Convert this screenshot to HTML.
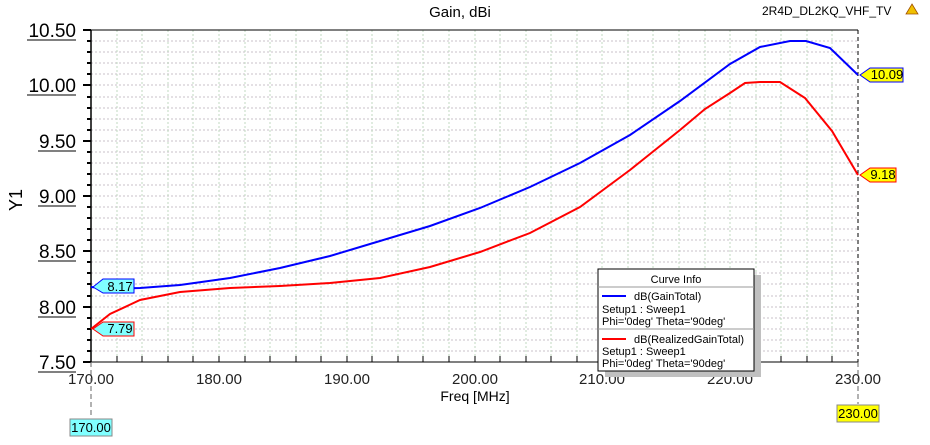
<!DOCTYPE html>
<html><head><style>
body{margin:0;background:#fff;}
svg text{font-family:"Liberation Sans",sans-serif;}
</style></head><body>
<svg width="930" height="440" xmlns="http://www.w3.org/2000/svg">
<rect width="930" height="440" fill="#fff"/>
<text x="460" y="17" font-size="15" text-anchor="middle">Gain, dBi</text>
<text x="762" y="15" font-size="12">2R4D_DL2KQ_VHF_TV</text>
<polygon points="912,4 918,14 906,14" fill="#f0c000" stroke="#a05000" stroke-width="0.8"/>
<g id="grid" stroke-width="1" stroke-dasharray="2,2">
<g stroke="#c8c0c8">
<line x1="91" y1="41" x2="858" y2="41"/><line x1="91" y1="52" x2="858" y2="52"/><line x1="91" y1="63" x2="858" y2="63"/><line x1="91" y1="74" x2="858" y2="74"/><line x1="91" y1="85" x2="858" y2="85"/><line x1="91" y1="97" x2="858" y2="97"/><line x1="91" y1="108" x2="858" y2="108"/><line x1="91" y1="119" x2="858" y2="119"/><line x1="91" y1="130" x2="858" y2="130"/><line x1="91" y1="141" x2="858" y2="141"/><line x1="91" y1="152" x2="858" y2="152"/><line x1="91" y1="163" x2="858" y2="163"/><line x1="91" y1="174" x2="858" y2="174"/><line x1="91" y1="185" x2="858" y2="185"/><line x1="91" y1="196" x2="858" y2="196"/><line x1="91" y1="207" x2="858" y2="207"/><line x1="91" y1="218" x2="858" y2="218"/><line x1="91" y1="229" x2="858" y2="229"/><line x1="91" y1="240" x2="858" y2="240"/><line x1="91" y1="251" x2="858" y2="251"/><line x1="91" y1="262" x2="858" y2="262"/><line x1="91" y1="273" x2="858" y2="273"/><line x1="91" y1="284" x2="858" y2="284"/><line x1="91" y1="296" x2="858" y2="296"/><line x1="91" y1="307" x2="858" y2="307"/><line x1="91" y1="318" x2="858" y2="318"/><line x1="91" y1="329" x2="858" y2="329"/><line x1="91" y1="340" x2="858" y2="340"/><line x1="91" y1="351" x2="858" y2="351"/>
</g>
<g stroke="#c0d8c0">
<line x1="117" y1="30" x2="117" y2="362"/><line x1="142" y1="30" x2="142" y2="362"/><line x1="168" y1="30" x2="168" y2="362"/><line x1="193" y1="30" x2="193" y2="362"/><line x1="219" y1="30" x2="219" y2="362"/><line x1="245" y1="30" x2="245" y2="362"/><line x1="270" y1="30" x2="270" y2="362"/><line x1="296" y1="30" x2="296" y2="362"/><line x1="321" y1="30" x2="321" y2="362"/><line x1="347" y1="30" x2="347" y2="362"/><line x1="372" y1="30" x2="372" y2="362"/><line x1="398" y1="30" x2="398" y2="362"/><line x1="423" y1="30" x2="423" y2="362"/><line x1="449" y1="30" x2="449" y2="362"/><line x1="475" y1="30" x2="475" y2="362"/><line x1="500" y1="30" x2="500" y2="362"/><line x1="526" y1="30" x2="526" y2="362"/><line x1="551" y1="30" x2="551" y2="362"/><line x1="577" y1="30" x2="577" y2="362"/><line x1="602" y1="30" x2="602" y2="362"/><line x1="628" y1="30" x2="628" y2="362"/><line x1="653" y1="30" x2="653" y2="362"/><line x1="679" y1="30" x2="679" y2="362"/><line x1="705" y1="30" x2="705" y2="362"/><line x1="730" y1="30" x2="730" y2="362"/><line x1="756" y1="30" x2="756" y2="362"/><line x1="781" y1="30" x2="781" y2="362"/><line x1="807" y1="30" x2="807" y2="362"/><line x1="832" y1="30" x2="832" y2="362"/>
</g>
</g>
<line x1="91" y1="30" x2="858" y2="30" stroke="#000"/>
<line x1="91" y1="30" x2="91" y2="362" stroke="#000" stroke-width="1.5"/>
<line x1="91" y1="362" x2="858" y2="362" stroke="#000"/>
<line x1="858" y1="30" x2="858" y2="362" stroke="#000" stroke-dasharray="4,3"/>
<g stroke="#000" stroke-width="2">
<line x1="83" y1="30" x2="91" y2="30"/><line x1="83" y1="85" x2="91" y2="85"/><line x1="83" y1="141" x2="91" y2="141"/><line x1="83" y1="196" x2="91" y2="196"/><line x1="83" y1="251" x2="91" y2="251"/><line x1="83" y1="307" x2="91" y2="307"/><line x1="83" y1="362" x2="91" y2="362"/>
<line x1="87" y1="41" x2="91" y2="41"/><line x1="87" y1="52" x2="91" y2="52"/><line x1="87" y1="63" x2="91" y2="63"/><line x1="87" y1="74" x2="91" y2="74"/><line x1="87" y1="97" x2="91" y2="97"/><line x1="87" y1="108" x2="91" y2="108"/><line x1="87" y1="119" x2="91" y2="119"/><line x1="87" y1="130" x2="91" y2="130"/><line x1="87" y1="152" x2="91" y2="152"/><line x1="87" y1="163" x2="91" y2="163"/><line x1="87" y1="174" x2="91" y2="174"/><line x1="87" y1="185" x2="91" y2="185"/><line x1="87" y1="207" x2="91" y2="207"/><line x1="87" y1="218" x2="91" y2="218"/><line x1="87" y1="229" x2="91" y2="229"/><line x1="87" y1="240" x2="91" y2="240"/><line x1="87" y1="262" x2="91" y2="262"/><line x1="87" y1="273" x2="91" y2="273"/><line x1="87" y1="284" x2="91" y2="284"/><line x1="87" y1="296" x2="91" y2="296"/><line x1="87" y1="318" x2="91" y2="318"/><line x1="87" y1="329" x2="91" y2="329"/><line x1="87" y1="340" x2="91" y2="340"/><line x1="87" y1="351" x2="91" y2="351"/>
</g>
<g font-size="19" text-anchor="end">
<text x="76" y="37">10.50</text><line x1="27" y1="40" x2="76" y2="40" stroke="#000"/>
<text x="76" y="92">10.00</text><line x1="27" y1="95" x2="76" y2="95" stroke="#000"/>
<text x="76" y="148">9.50</text><line x1="38" y1="151" x2="76" y2="151" stroke="#000"/>
<text x="76" y="203">9.00</text><line x1="38" y1="206" x2="76" y2="206" stroke="#000"/>
<text x="76" y="258">8.50</text><line x1="38" y1="261" x2="76" y2="261" stroke="#000"/>
<text x="76" y="314">8.00</text><line x1="38" y1="317" x2="76" y2="317" stroke="#000"/>
<text x="76" y="369">7.50</text><line x1="38" y1="372" x2="76" y2="372" stroke="#000"/>
</g>
<text transform="translate(22,200) rotate(-90)" font-size="18" text-anchor="middle">Y1</text>
<g stroke="#000" stroke-width="1">
<line x1="117" y1="356" x2="117" y2="362"/><line x1="142" y1="356" x2="142" y2="362"/><line x1="168" y1="356" x2="168" y2="362"/><line x1="193" y1="356" x2="193" y2="362"/><line x1="219" y1="356" x2="219" y2="362"/><line x1="245" y1="356" x2="245" y2="362"/><line x1="270" y1="356" x2="270" y2="362"/><line x1="296" y1="356" x2="296" y2="362"/><line x1="321" y1="356" x2="321" y2="362"/><line x1="347" y1="356" x2="347" y2="362"/><line x1="372" y1="356" x2="372" y2="362"/><line x1="398" y1="356" x2="398" y2="362"/><line x1="423" y1="356" x2="423" y2="362"/><line x1="449" y1="356" x2="449" y2="362"/><line x1="475" y1="356" x2="475" y2="362"/><line x1="500" y1="356" x2="500" y2="362"/><line x1="526" y1="356" x2="526" y2="362"/><line x1="551" y1="356" x2="551" y2="362"/><line x1="577" y1="356" x2="577" y2="362"/><line x1="602" y1="356" x2="602" y2="362"/><line x1="628" y1="356" x2="628" y2="362"/><line x1="653" y1="356" x2="653" y2="362"/><line x1="679" y1="356" x2="679" y2="362"/><line x1="705" y1="356" x2="705" y2="362"/><line x1="730" y1="356" x2="730" y2="362"/><line x1="756" y1="356" x2="756" y2="362"/><line x1="781" y1="356" x2="781" y2="362"/><line x1="807" y1="356" x2="807" y2="362"/><line x1="832" y1="356" x2="832" y2="362"/>
</g>
<g font-size="15" text-anchor="middle" fill="#222">
<text x="91" y="384">170.00</text><text x="219" y="384">180.00</text><text x="347" y="384">190.00</text><text x="475" y="384">200.00</text><text x="602" y="384">210.00</text><text x="730" y="384">220.00</text><text x="858" y="384">230.00</text>
</g>
<text x="475" y="401" font-size="14" text-anchor="middle">Freq [MHz]</text>
<polyline fill="none" stroke="#0000ff" stroke-width="2" points="91,287 110,289 140,288 180,285 230,278 280,268 330,256 380,241 430,226 480,208 530,187 580,163 630,135 680,101 730,64 760,47 790,41 806,41 830,48 858,75"/>
<polyline fill="none" stroke="#ff0000" stroke-width="2" points="91,329 110,314 140,300 180,292 230,288 280,286 330,283 380,278 430,267 480,252 530,233 580,207 630,170 680,130 705,109 730,93 745,83 760,82 780,82 805,98 832,131 858,175"/>
<line x1="91" y1="362" x2="91" y2="418" stroke="#666" stroke-dasharray="5,3"/>
<line x1="858" y1="362" x2="858" y2="404" stroke="#666" stroke-dasharray="5,3"/>
<rect x="70" y="419" width="42" height="17" fill="#80ffff" stroke="#888"/>
<text x="91" y="432" font-size="13" text-anchor="middle">170.00</text>
<rect x="837" y="405" width="42" height="17" fill="#ffff00" stroke="#888"/>
<text x="858" y="418" font-size="13" text-anchor="middle">230.00</text>
<polygon points="93,287 103,279 134,279 134,293 103,293" fill="#80ffff" stroke="#0000ff"/>
<text x="120" y="291" font-size="13" text-anchor="middle">8.17</text>
<polygon points="93,329 103,322 134,322 134,336 103,336" fill="#80ffff" stroke="#ff0000"/>
<text x="120" y="333" font-size="13" text-anchor="middle">7.79</text>
<polygon points="860,75 870,68 903,68 903,82 870,82" fill="#ffff00" stroke="#0000ff"/>
<text x="887" y="79" font-size="13" text-anchor="middle">10.09</text>
<polygon points="860,175 870,168 896,168 896,182 870,182" fill="#ffff00" stroke="#ff0000"/>
<text x="883" y="179" font-size="13" text-anchor="middle">9.18</text>
<rect x="605" y="275" width="156" height="102" fill="#c0c0c0"/>
<rect x="598" y="269" width="156" height="102" fill="#fff" stroke="#000"/>
<text x="676" y="283" font-size="11" text-anchor="middle">Curve Info</text>
<line x1="598" y1="287" x2="754" y2="287" stroke="#999"/>
<line x1="602" y1="296" x2="626" y2="296" stroke="#0000ff" stroke-width="2"/>
<text x="634" y="300" font-size="11">dB(GainTotal)</text>
<text x="602" y="313" font-size="11">Setup1 : Sweep1</text>
<text x="602" y="325" font-size="11">Phi='0deg' Theta='90deg'</text>
<line x1="598" y1="329" x2="754" y2="329" stroke="#999"/>
<line x1="602" y1="339" x2="626" y2="339" stroke="#ff0000" stroke-width="2"/>
<text x="634" y="343" font-size="11">dB(RealizedGainTotal)</text>
<text x="602" y="355" font-size="11">Setup1 : Sweep1</text>
<text x="602" y="367" font-size="11">Phi='0deg' Theta='90deg'</text>
</svg>
</body></html>
